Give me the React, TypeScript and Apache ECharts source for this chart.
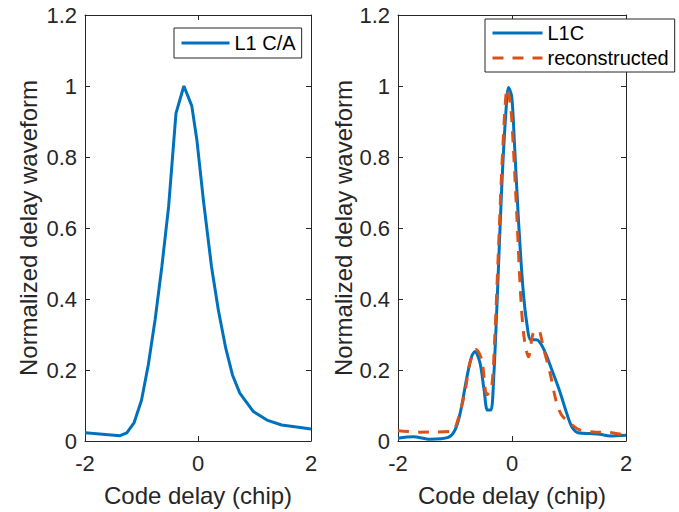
import React, { useEffect, useRef } from "react";
import * as echarts from "echarts";

const xTicks = [-2, 0, 2];
const yTicks = [0, 0.2, 0.4, 0.6, 0.8, 1, 1.2];

const caX = [-2, -1.38, -1.26, -1.13, -1.0, -0.88, -0.76, -0.64, -0.52, -0.39, -0.25, -0.11, -0.02, 0.095, 0.24, 0.36, 0.49, 0.61, 0.74, 0.98, 1.22, 1.48, 1.81, 2.0];
const caY = [0.023, 0.015, 0.023, 0.052, 0.115, 0.214, 0.341, 0.491, 0.66, 0.923, 1.0, 0.944, 0.848, 0.679, 0.49, 0.369, 0.262, 0.186, 0.135, 0.083, 0.059, 0.045, 0.038, 0.034];

const l1cX = [-2, -1.73, -1.44, -1.12, -1.0, -0.91, -0.79, -0.71, -0.65, -0.56, -0.49, -0.43, -0.37, -0.32, -0.26, -0.18, -0.105, -0.06, -0.005, 0.04, 0.11, 0.19, 0.26, 0.33, 0.43, 0.55, 0.7, 0.84, 0.96, 1.05, 1.16, 1.37, 1.54, 1.72, 2.0];
const l1cY = [0.008, 0.012, 0.005, 0.01, 0.031, 0.078, 0.181, 0.237, 0.252, 0.219, 0.144, 0.087, 0.087, 0.181, 0.397, 0.716, 0.932, 0.996, 0.97, 0.848, 0.632, 0.435, 0.331, 0.285, 0.285, 0.261, 0.2, 0.139, 0.078, 0.04, 0.023, 0.021, 0.019, 0.014, 0.016];

const recX = [-2, -1.62, -1.06, -0.94, -0.82, -0.74, -0.63, -0.53, -0.44, -0.36, -0.3, -0.24, -0.16, -0.083, -0.023, 0.023, 0.083, 0.15, 0.21, 0.29, 0.37, 0.46, 0.55, 0.67, 0.77, 0.87, 1.02, 1.19, 1.49, 1.72, 2.0];
const recY = [0.029, 0.025, 0.027, 0.064, 0.144, 0.219, 0.258, 0.228, 0.13, 0.148, 0.3, 0.529, 0.829, 0.993, 0.942, 0.829, 0.641, 0.416, 0.294, 0.237, 0.303, 0.313, 0.263, 0.19, 0.115, 0.073, 0.05, 0.031, 0.025, 0.024, 0.016];

const FONT = "Liberation Sans, Arial, Helvetica, sans-serif";
const TXT = "#262626";
const BLUE = "#0072BD";
const RED = "#D95319";

const pairs = (xs: number[], ys: number[]) => xs.map((x, i) => [x, ys[i]]);

function axesFor(gridIndex: number, yNameGap: number) {
  const common = {
    gridIndex,
    axisLine: { show: true, onZero: false, lineStyle: { color: TXT, width: 1 } },
    axisTick: { show: true, inside: true, length: 5, lineStyle: { color: TXT, width: 1 } },
    splitLine: { show: false },
  };
  const xs = [
    {
      ...common,
      type: "value",
      position: "bottom",
      min: xTicks[0],
      max: xTicks[xTicks.length - 1],
      interval: 2,
      name: "Code delay (chip)",
      nameLocation: "middle",
      nameGap: 42,
      nameTextStyle: { fontFamily: FONT, fontSize: 24, color: TXT },
      axisLabel: { fontFamily: FONT, fontSize: 22, color: TXT, margin: 11 },
    },
    {
      ...common,
      type: "value",
      position: "top",
      min: xTicks[0],
      max: xTicks[xTicks.length - 1],
      interval: 2,
      axisLabel: { show: false },
    },
  ];
  const ys = [
    {
      ...common,
      type: "value",
      position: "left",
      min: yTicks[0],
      max: yTicks[yTicks.length - 1],
      interval: 0.2,
      name: "Normalized delay waveform",
      nameLocation: "middle",
      nameGap: yNameGap,
      nameTextStyle: { fontFamily: FONT, fontSize: 24, color: TXT },
      axisLabel: { fontFamily: FONT, fontSize: 22, color: TXT, margin: 8 },
    },
    {
      ...common,
      type: "value",
      position: "right",
      min: yTicks[0],
      max: yTicks[yTicks.length - 1],
      interval: 0.2,
      axisLabel: { show: false },
    },
  ];
  return { xs, ys };
}

export default function App() {
  const ref = useRef<HTMLDivElement>(null);
  useEffect(() => {
    if (!ref.current) return;
    const chart = echarts.init(ref.current, undefined, { renderer: "svg" });
    const a0 = axesFor(0, 45);
    const a1 = axesFor(1, 41);
    chart.setOption({
      animation: false,
      backgroundColor: "#ffffff",
      grid: [
        { left: 85, right: 368, top: 15, bottom: 71 },
        { left: 398, right: 53, top: 15, bottom: 71 },
      ],
      xAxis: [...a0.xs, ...a1.xs],
      yAxis: [...a0.ys, ...a1.ys],
      legend: [
        {
          data: ["L1 C/A"],
          left: 174,
          top: 28,
          padding: [5, 6, 5, 6],
          itemWidth: 48,
          itemHeight: 14,
          itemStyle: { opacity: 0 },
          lineStyle: { width: 3 },
          borderColor: TXT,
          borderWidth: 1,
          backgroundColor: "#ffffff",
          textStyle: { fontFamily: FONT, fontSize: 20, color: "#000" },
        },
        {
          data: ["L1C", "reconstructed"],
          orient: "vertical",
          left: 485,
          top: 19,
          padding: [4, 6, 4, 6],
          itemGap: 5,
          itemWidth: 50,
          itemHeight: 14,
          itemStyle: { opacity: 0 },
          lineStyle: { width: 3 },
          borderColor: TXT,
          borderWidth: 1,
          backgroundColor: "#ffffff",
          textStyle: { fontFamily: FONT, fontSize: 20, color: "#000" },
        },
      ],
      series: [
        {
          name: "L1 C/A",
          type: "line",
          xAxisIndex: 0,
          yAxisIndex: 0,
          data: pairs(caX, caY),
          symbol: "none",
          lineStyle: { color: BLUE, width: 3 },
          itemStyle: { color: BLUE },
        },
        {
          name: "L1C",
          type: "line",
          xAxisIndex: 2,
          yAxisIndex: 2,
          data: pairs(l1cX, l1cY),
          symbol: "none",
          smooth: 0.3,
          lineStyle: { color: BLUE, width: 3 },
          itemStyle: { color: BLUE },
        },
        {
          name: "reconstructed",
          type: "line",
          xAxisIndex: 2,
          yAxisIndex: 2,
          data: pairs(recX, recY),
          symbol: "none",
          smooth: 0.3,
          lineStyle: { color: RED, width: 3, type: [11, 9] },
          itemStyle: { color: RED },
        },
      ],
    });
    return () => chart.dispose();
  }, []);
  return <div ref={ref} style={{ width: 679, height: 512, position: "absolute", left: 0, top: 0 }} />;
}
